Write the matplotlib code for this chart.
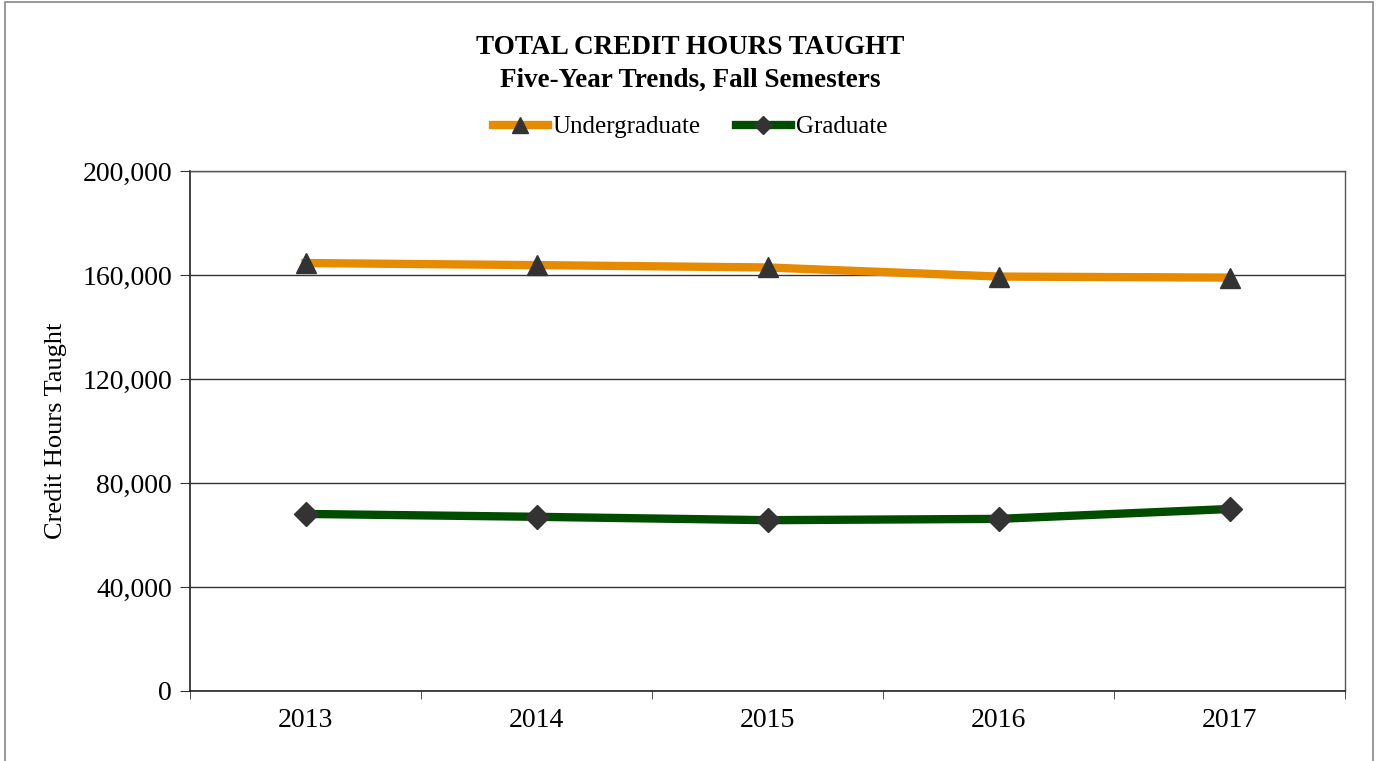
import matplotlib.pyplot as plt
from matplotlib.patches import Rectangle
from matplotlib.ticker import FuncFormatter, FixedLocator

years = ['2013', '2014', '2015', '2016', '2017']
undergraduate = [164600, 163800, 162900, 159400, 159000]
graduate = [68100, 67000, 65700, 66200, 70000]

plt.rcParams['font.family'] = ['Liberation Serif', 'DejaVu Serif']

fig = plt.figure(figsize=(13.8, 7.61), dpi=100)
ax = fig.add_axes([190 / 1380, 1 - 691 / 761, (1345 - 190) / 1380, (691 - 171) / 761])

# borda externa do gráfico
fig.patches.append(Rectangle((5 / 1380, -0.05), (1373 - 5) / 1380, 1 - 2 / 761 + 0.05,
                             transform=fig.transFigure, fill=False, edgecolor='#888888', linewidth=1.2))

x = range(len(years))
ax.plot(x, undergraduate, color='#E68A00', linewidth=6, marker='^', markersize=15,
        markerfacecolor='#333333', markeredgecolor='#333333', label='Undergraduate', zorder=3)
ax.plot(x, graduate, color='#004D00', linewidth=6, marker='D', markersize=12,
        markerfacecolor='#333333', markeredgecolor='#333333', label='Graduate', zorder=3)

ax.set_xlim(-0.5, 4.5)
ax.set_ylim(0, 200000)
ax.set_yticks(range(0, 200001, 40000))
ax.yaxis.set_major_formatter(FuncFormatter(lambda v, p: f'{int(v):,}'))
ax.grid(axis='y', color='#333333', linewidth=1)
ax.set_axisbelow(True)

ax.set_xticks(list(x))
ax.set_xticklabels(years)
ax.xaxis.set_minor_locator(FixedLocator([i - 0.5 for i in range(6)]))
ax.tick_params(axis='x', which='major', length=0, labelsize=20, pad=12)
ax.tick_params(axis='x', which='minor', length=6, direction='out', color='#333333')
ax.tick_params(axis='y', length=7, direction='out', labelsize=20, pad=6, color='#333333')

for s in ['left', 'bottom']:
    ax.spines[s].set_color('#222222')
    ax.spines[s].set_linewidth(1.2)
for s in ['top', 'right']:
    ax.spines[s].set_color('#555555')
    ax.spines[s].set_linewidth(1)

ax.set_ylabel('Credit Hours Taught', fontsize=19, labelpad=11)

fig.text(0.5, 1 - 47 / 761, 'TOTAL CREDIT HOURS TAUGHT', ha='center', va='center',
         fontsize=19.5, fontweight='bold')
fig.text(0.5, 1 - 80 / 761, 'Five-Year Trends, Fall Semesters', ha='center', va='center',
         fontsize=19.5, fontweight='bold')

fig.legend(loc='center', bbox_to_anchor=(0.5, 1 - 127 / 761), ncol=2, frameon=False,
           fontsize=18, handlelength=2.2, handletextpad=0.2, columnspacing=1.4,
           markerscale=0.8)

fig.savefig('out.png', dpi=100)
